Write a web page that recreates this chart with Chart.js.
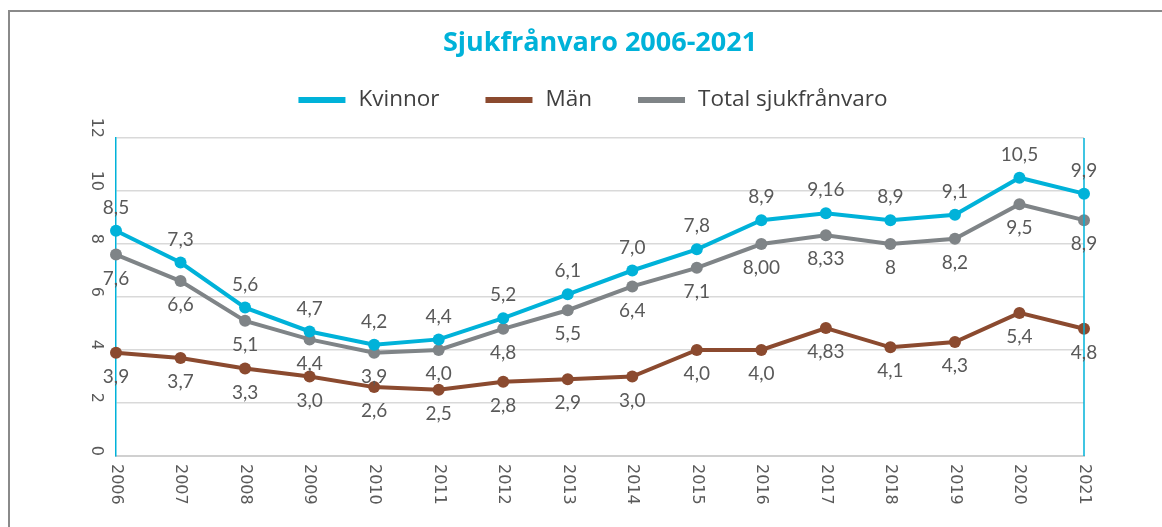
<!DOCTYPE html>
<html>
<head>
<meta charset="utf-8">
<script src="https://cdn.jsdelivr.net/npm/chart.js@4"></script>
<style>
  html, body { margin: 0; padding: 0; background: #ffffff; }
  #wrap { width: 1162px; height: 527px; }
</style>
</head>
<body>
<div id="wrap"><canvas id="myChart" width="1162" height="527"></canvas></div>
<script>
// data
var years = ["2006","2007","2008","2009","2010","2011","2012","2013","2014","2015","2016","2017","2018","2019","2020","2021"];
var kvinnor = [8.5, 7.3, 5.6, 4.7, 4.2, 4.4, 5.2, 6.1, 7.0, 7.8, 8.9, 9.16, 8.9, 9.1, 10.5, 9.9];
var man = [3.9, 3.7, 3.3, 3.0, 2.6, 2.5, 2.8, 2.9, 3.0, 4.0, 4.0, 4.83, 4.1, 4.3, 5.4, 4.8];
var total = [7.6, 6.6, 5.1, 4.4, 3.9, 4.0, 4.8, 5.5, 6.4, 7.1, 8.00, 8.33, 8, 8.2, 9.5, 8.9];
// label texts as printed in the chart
var kvinnorText = ["8,5","7,3","5,6","4,7","4,2","4,4","5,2","6,1","7,0","7,8","8,9","9,16","8,9","9,1","10,5","9,9"];
var manText = ["3,9","3,7","3,3","3,0","2,6","2,5","2,8","2,9","3,0","4,0","4,0","4,83","4,1","4,3","5,4","4,8"];
var totalText = ["7,6","6,6","5,1","4,4","3,9","4,0","4,8","5,5","6,4","7,1","8,00","8,33","8","8,2","9,5","8,9"];
var yTicks = [0, 2, 4, 6, 8, 10, 12];

var cyan = "#00b2d9", brown = "#8b4a2f", grey = "#7f8487", txt = "#595959";

// frame, legend, rotated tick labels, right border line, value labels
var extras = {
    id: "extras",
    beforeDraw: function(chart) {
        var ctx = chart.ctx;
        ctx.save();
        ctx.strokeStyle = "#8a8a8a";
        ctx.lineWidth = 2;
        ctx.beginPath();
        ctx.moveTo(9, 527);
        ctx.lineTo(9, 11);
        ctx.lineTo(1162, 11);
        ctx.stroke();
        ctx.restore();
    },
    afterDraw: function(chart) {
        var ctx = chart.ctx, a = chart.chartArea;
        var xs = chart.scales.x, ys = chart.scales.y;
        ctx.save();
        // right border
        ctx.strokeStyle = cyan;
        ctx.lineWidth = 1.5;
        ctx.beginPath();
        ctx.moveTo(a.right, a.top);
        ctx.lineTo(a.right, a.bottom);
        ctx.stroke();

        ctx.fillStyle = txt;
        ctx.font = "16px 'DejaVu Sans'";
        // y ticks, turned clockwise
        yTicks.forEach(function(v) {
            var y = ys.getPixelForValue(v);
            ctx.save();
            ctx.translate(a.left - 20, y);
            ctx.rotate(Math.PI / 2);
            ctx.textAlign = "right";
            ctx.textBaseline = "middle";
            ctx.fillText(String(v), 0, 0);
            ctx.restore();
        });
        // x ticks, turned clockwise
        years.forEach(function(lab, i) {
            var x = xs.getPixelForValue(i);
            ctx.save();
            ctx.translate(x, a.bottom + 8);
            ctx.rotate(Math.PI / 2);
            ctx.textAlign = "left";
            ctx.textBaseline = "middle";
            ctx.fillText(lab, 0, 0);
            ctx.restore();
        });
        ctx.restore();

        // legend
        var sw = 47, gap = 13, between = 46, ly = 100;
        ctx.save();
        ctx.font = "22.5px 'Open Sans'";
        ctx.textBaseline = "middle";
        var dsets = chart.data.datasets;
        var totalW = 0;
        dsets.forEach(function(ds, i) {
            totalW += sw + gap + ctx.measureText(ds.label).width;
            if (i < dsets.length - 1) totalW += between;
        });
        var lx = 593 - totalW / 2;
        dsets.forEach(function(ds) {
            ctx.fillStyle = ds.borderColor;
            ctx.fillRect(lx, ly - 3, sw, 6);
            ctx.fillStyle = "#404040";
            ctx.fillText(ds.label, lx + sw + gap, ly);
            lx += sw + gap + ctx.measureText(ds.label).width + between;
        });
        ctx.restore();

        // value labels
        var texts = [kvinnorText, manText, totalText];
        var offs = [-23, 24, 24];
        ctx.save();
        ctx.fillStyle = txt;
        ctx.font = "19px Lato";
        ctx.textAlign = "center";
        ctx.textBaseline = "middle";
        dsets.forEach(function(ds, di) {
            var meta = chart.getDatasetMeta(di);
            meta.data.forEach(function(pt, i) {
                ctx.fillText(texts[di][i], pt.x, pt.y + offs[di]);
            });
        });
        ctx.restore();
    }
};

var ctx = document.getElementById("myChart").getContext("2d");
var myChart = new Chart(ctx, {
    type: "line",
    data: {
        labels: years,
        datasets: [
            { label: "Kvinnor", data: kvinnor, borderColor: cyan, backgroundColor: cyan, borderWidth: 4, pointRadius: 6, pointBackgroundColor: cyan, pointBorderWidth: 0, tension: 0 },
            { label: "Män", data: man, borderColor: brown, backgroundColor: brown, borderWidth: 4, pointRadius: 6, pointBackgroundColor: brown, pointBorderWidth: 0, tension: 0 },
            { label: "Total sjukfrånvaro", data: total, borderColor: grey, backgroundColor: grey, borderWidth: 4, pointRadius: 6, pointBackgroundColor: grey, pointBorderWidth: 0, tension: 0 }
        ]
    },
    options: {
        responsive: false,
        animation: false,
        layout: { padding: { left: 116, right: 78, top: 10, bottom: 71 } },
        plugins: {
            title: {
                display: true,
                text: "Sjukfrånvaro 2006-2021",
                color: cyan,
                font: { family: "'Open Sans'", size: 27, weight: "bold" },
                padding: { top: 17, bottom: 78.6 }
            },
            legend: { display: false },
            tooltip: { enabled: false }
        },
        scales: {
            x: {
                offset: false,
                grid: { display: false, drawTicks: false },
                border: { color: "#d0d0d0", width: 2 },
                ticks: { display: false }
            },
            y: {
                min: 0,
                max: 12,
                grid: { color: "#d9d9d9", lineWidth: 1.5, drawTicks: false },
                border: { color: cyan, width: 1.5 },
                ticks: { display: false, stepSize: 2 }
            }
        }
    },
    plugins: [extras]
});
</script>
</body>
</html>
